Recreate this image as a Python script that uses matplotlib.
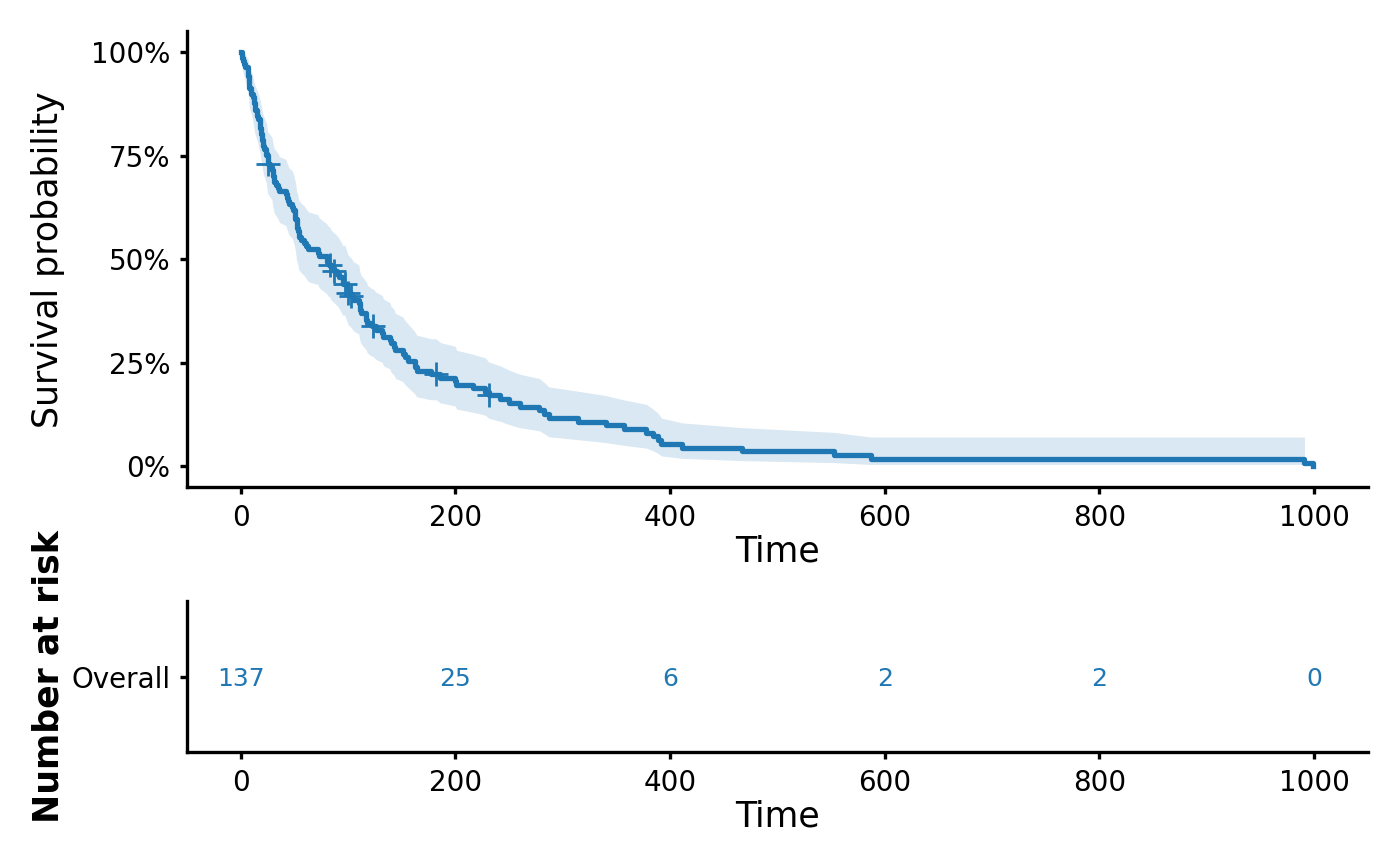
import numpy as np
import matplotlib.pyplot as plt
from matplotlib.ticker import PercentFormatter

# veteran lung cancer trial: survival time (days) and status (1 = death, 0 = censored)
time = [72, 411, 228, 126, 118, 10, 82, 110, 314, 100, 42, 8, 144, 25, 11,
        30, 384, 4, 54, 13, 123, 97, 153, 59, 117, 16, 151, 22, 56, 21, 18,
        139, 20, 31, 52, 287, 18, 51, 122, 27, 54, 7, 63, 392, 10,
        8, 92, 35, 117, 132, 12, 162, 3, 95,
        177, 162, 216, 553, 278, 12, 260, 200, 156, 182, 143, 105, 103, 250, 100,
        999, 112, 87, 231, 242, 991, 111, 1, 587, 389, 33, 25, 357, 467, 201,
        1, 30, 44, 283, 15,
        25, 103, 21, 13, 87, 2, 20, 7, 24, 99, 8, 99, 61, 25, 95, 80, 51, 29,
        24, 18, 83, 31, 51, 90, 52, 73, 8, 36, 48, 7, 140, 186, 84, 19, 45, 80,
        52, 164, 19, 53, 15, 43, 340, 133,
        111, 231, 378, 49]
status = [1, 1, 1, 1, 1, 1, 1, 1, 1, 0, 1, 1, 1, 0, 1,
          1, 1, 1, 1, 1, 0, 0, 1, 1, 1, 1, 1, 1, 1, 1, 1,
          1, 1, 1, 1, 1, 1, 1, 1, 1, 1, 1, 1, 1, 1,
          1, 1, 1, 1, 1, 1, 1, 1, 1,
          1, 1, 1, 1, 1, 1, 1, 1, 1, 0, 1, 1, 1, 1, 1,
          1, 1, 0, 0, 1, 1, 1, 1, 1, 1, 1, 1, 1, 1, 1,
          1, 1, 1, 1, 1,
          1, 0, 1, 1, 1, 1, 1, 1, 1, 1, 1, 1, 1, 1, 1, 1, 1, 1,
          1, 1, 0, 1, 1, 1, 1, 1, 1, 1, 1, 1, 1, 1, 1, 1, 1, 1,
          1, 1, 1, 1, 1, 1, 1, 1,
          1, 1, 1, 1]
risk_times = [0, 200, 400, 600, 800, 1000]

BLUE = '#1f77b4'

# ---- Kaplan-Meier estimate, Greenwood CI on the log scale ----
T = np.array(time, dtype=float)
E = np.array(status)
uniq = np.unique(T)
n_risk = np.array([(T >= t).sum() for t in uniq])
d = np.array([((T == t) & (E == 1)).sum() for t in uniq])
surv = np.cumprod(1 - d / n_risk)

with np.errstate(divide='ignore', invalid='ignore'):
    gw = np.cumsum(d / (n_risk * (n_risk - d)))
    lo = surv * np.exp(-1.96 * np.sqrt(gw))
    hi = np.minimum(surv * np.exp(1.96 * np.sqrt(gw)), 1.0)

tl = np.concatenate([[0], uniq])
sv = np.concatenate([[1.0], surv])
lo = np.concatenate([[1.0], lo])
hi = np.concatenate([[1.0], hi])
ok = np.isfinite(lo) & np.isfinite(hi) & (sv > 0)
# band stops at the last time with a finite interval, using the prior level
band_t = tl[ok]
band_lo = np.append(lo[ok][:-1], lo[ok][-2])
band_hi = np.append(hi[ok][:-1], hi[ok][-2])

cens_t = np.unique(T[E == 0])
cens_s = np.array([sv[np.searchsorted(tl, t, side='right') - 1] for t in cens_t])

at_risk = [(T >= t).sum() for t in risk_times]

# ---- figure ----
plt.rcParams['axes.linewidth'] = 1.2
plt.rcParams['xtick.major.width'] = 1.2
plt.rcParams['ytick.major.width'] = 1.2
plt.rcParams['xtick.major.size'] = 2.5
plt.rcParams['ytick.major.size'] = 2.5

fig = plt.figure(figsize=(7, 4.33), dpi=200)
ax = fig.add_axes([0.1336, 0.4376, 0.8434, 0.5262])
ax2 = fig.add_axes([0.1336, 0.1316, 0.8434, 0.1744])

ax.fill_between(band_t, band_lo, band_hi, color=BLUE, alpha=0.17, lw=0)
ax.step(tl, sv, where='post', color=BLUE, lw=1.9)
ax.plot(cens_t, cens_s, '+', color=BLUE, ms=8.5, mew=1.0)

ax.yaxis.set_major_formatter(PercentFormatter(1.0, decimals=0))
ax.set_yticks([0, 0.25, 0.5, 0.75, 1.0])
ax.set_xlim(-50, 1050)
ax.set_ylim(-0.05, 1.05)
ax.set_xlabel('Time', fontsize=12.5, labelpad=1)
ax.set_ylabel('Survival probability', fontsize=12.5)
ax.yaxis.set_label_coords(-0.103, 0.5)

for t, n in zip(risk_times, at_risk):
    ax2.text(t, 0, str(n), color=BLUE, ha='center', va='center_baseline', fontsize=9)
ax2.set_xlim(-50, 1050)
ax2.set_ylim(-0.5, 0.5)
ax2.set_yticks([0])
ax2.set_yticklabels(['Overall'])
ax2.set_xticks(risk_times)
ax2.set_xlabel('Time', fontsize=12.5, labelpad=1)
ax2.set_ylabel('Number at risk', fontsize=12.5, fontweight='bold')
ax2.yaxis.set_label_coords(-0.103, 0.5)

for a in (ax, ax2):
    a.spines['top'].set_visible(False)
    a.spines['right'].set_visible(False)
    a.tick_params(labelsize=10)

fig.savefig('out.png', dpi=200)
